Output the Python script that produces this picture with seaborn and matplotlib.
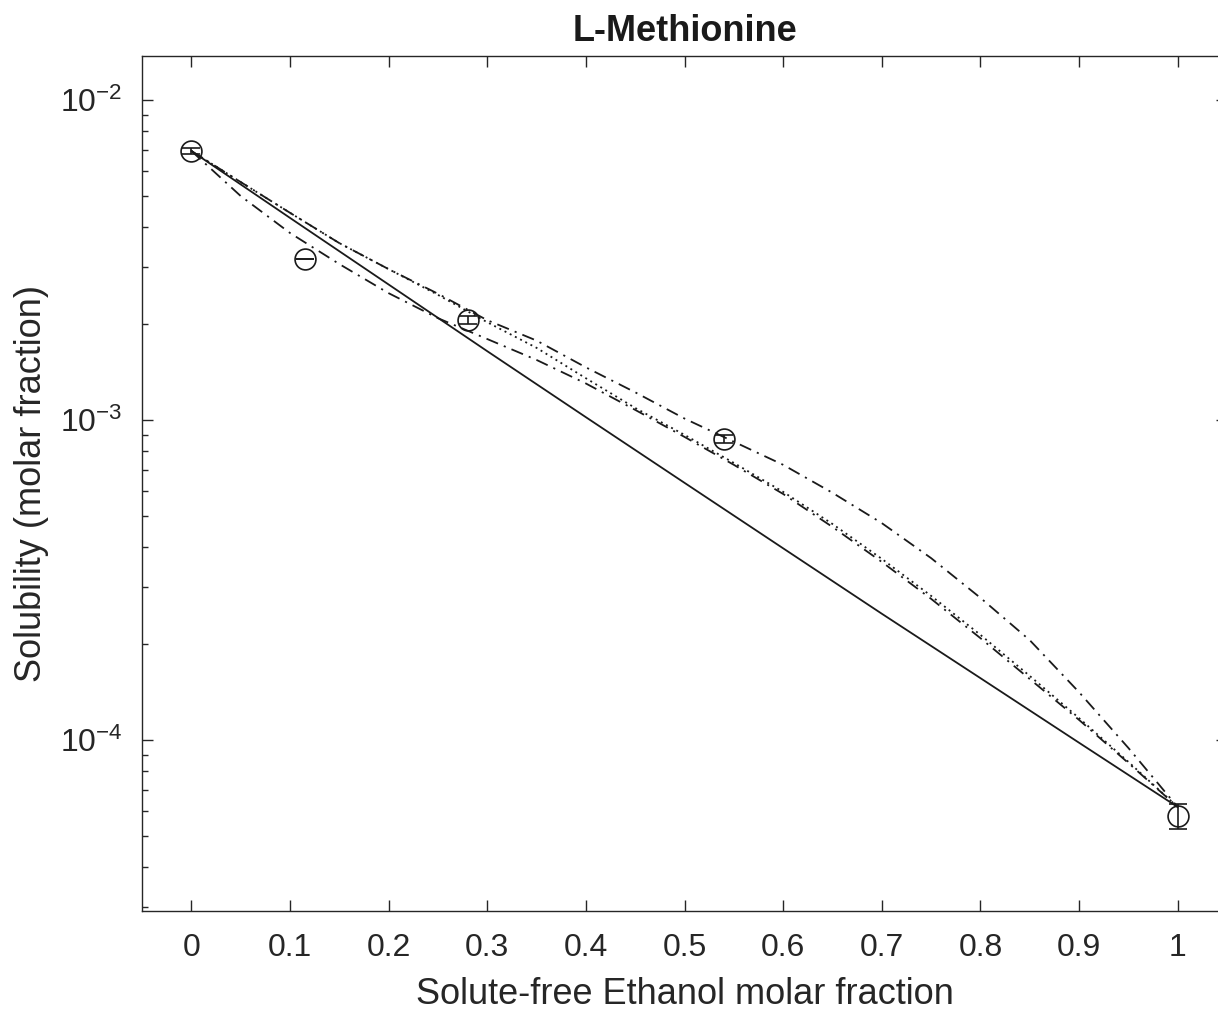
import numpy as np
import matplotlib
matplotlib.use('Agg')
import matplotlib.pyplot as plt
import seaborn as sns
from matplotlib.ticker import LogLocator, NullFormatter

# Experimental solubility (molar fraction) with error bars
x_exp = [0.0, 0.115, 0.28, 0.54, 1.0]
y_exp = [6.93e-3, 3.19e-3, 2.05e-3, 8.72e-4, 5.79e-5]
y_err = [1.5e-4, 4.0e-6, 6.0e-5, 2.5e-5, 5.2e-6]

# Solid model line
x_lin = [0.0, 0.1, 0.2, 0.3, 0.4, 0.5, 0.6, 0.7, 0.8, 0.9, 1.0]
y_lin = [6.93e-3, 4.28e-3, 2.65e-3, 1.64e-3, 1.02e-3, 6.36e-4,
         3.97e-4, 2.48e-4, 1.56e-4, 9.80e-5, 6.17e-5]

# Other model curves, read at steps of 0.05
x_mod = [0.0, 0.05, 0.1, 0.15, 0.2, 0.25, 0.3, 0.35, 0.4, 0.45, 0.5,
         0.55, 0.6, 0.65, 0.7, 0.75, 0.8, 0.85, 0.9, 0.95, 1.0]
y_dashdot_a = [6.93e-3, 5.54e-3, 4.44e-3, 3.57e-3, 2.96e-3, 2.48e-3, 2.05e-3,
               1.77e-3, 1.46e-3, 1.22e-3, 1.01e-3, 8.55e-4, 7.24e-4, 5.92e-4,
               4.76e-4, 3.70e-4, 2.78e-4, 2.05e-4, 1.41e-4, 9.44e-5, 6.17e-5]
y_dashdot_b = [6.93e-3, 5.01e-3, 3.84e-3, 3.07e-3, 2.49e-3, 2.08e-3, 1.79e-3,
               1.54e-3, 1.30e-3, 1.075e-3, 8.85e-4, 7.24e-4, 5.87e-4, 4.63e-4,
               3.60e-4, 2.76e-4, 2.08e-4, 1.55e-4, 1.155e-4, 8.47e-5, 6.17e-5]
y_dotted = [6.93e-3, 5.54e-3, 4.44e-3, 3.57e-3, 2.96e-3, 2.46e-3, 2.02e-3,
            1.68e-3, 1.35e-3, 1.09e-3, 8.98e-4, 7.34e-4, 5.96e-4, 4.73e-4,
            3.68e-4, 2.82e-4, 2.13e-4, 1.585e-4, 1.17e-4, 8.54e-5, 6.17e-5]

x_ticks = [0.0, 0.1, 0.2, 0.3, 0.4, 0.5, 0.6, 0.7, 0.8, 0.9, 1.0]
x_ticklabels = ['0', '0.1', '0.2', '0.3', '0.4', '0.5', '0.6', '0.7', '0.8', '0.9', '1']

sns.set_theme(style='white', rc={'lines.scale_dashes': False})
plt.rcParams['font.family'] = ['Liberation Sans', 'DejaVu Sans']
txt = '#262626'

fig = plt.figure(figsize=(12.18, 10.18), dpi=100)
ax = fig.add_axes([0.1166, 0.1051, 0.8908, 0.8399])

lw = 1.3
dashdot = (0, (9, 4.5, 1.5, 4.5))
sns.lineplot(x=x_lin, y=y_lin, ax=ax, color='k', lw=lw)
sns.lineplot(x=x_mod, y=y_dashdot_a, ax=ax, color='k', lw=lw, linestyle=dashdot)
sns.lineplot(x=x_mod, y=y_dashdot_b, ax=ax, color='k', lw=lw, linestyle=dashdot)
sns.lineplot(x=x_mod, y=y_dotted, ax=ax, color='k', lw=lw,
             linestyle=(0, (1.4, 2.8)))

ax.errorbar(x_exp, y_exp, yerr=y_err, fmt='o', ms=15, mfc='none', mec='k',
            mew=1.2, ecolor='k', elinewidth=1.2, capsize=6.5, capthick=1.2)

ax.set_yscale('log')
ax.set_xlim(-0.05, 1.05)
ax.set_ylim(2.92e-5, 1.372e-2)
ax.set_xticks(x_ticks)
ax.set_xticklabels(x_ticklabels)
ax.yaxis.set_minor_locator(LogLocator(base=10, subs=np.arange(2, 10)))
ax.yaxis.set_minor_formatter(NullFormatter())

ax.tick_params(which='both', direction='in', bottom=True, left=True,
               top=True, right=True, color=txt, labelcolor=txt, width=1.0)
ax.tick_params(which='major', length=8, labelsize=23)
ax.tick_params(which='minor', length=4)
ax.tick_params(axis='x', pad=16)
ax.tick_params(axis='y', pad=14)
for s in ax.spines.values():
    s.set_color(txt)
    s.set_linewidth(1.0)

ax.set_xlabel('Solute-free Ethanol molar fraction', fontsize=26, color=txt, labelpad=10)
ax.set_ylabel('Solubility (molar fraction)', fontsize=26, color=txt, labelpad=8)
ax.set_title('L-Methionine', fontsize=26, fontweight='bold', color='k', pad=11)

fig.savefig('out.png', dpi=100)
